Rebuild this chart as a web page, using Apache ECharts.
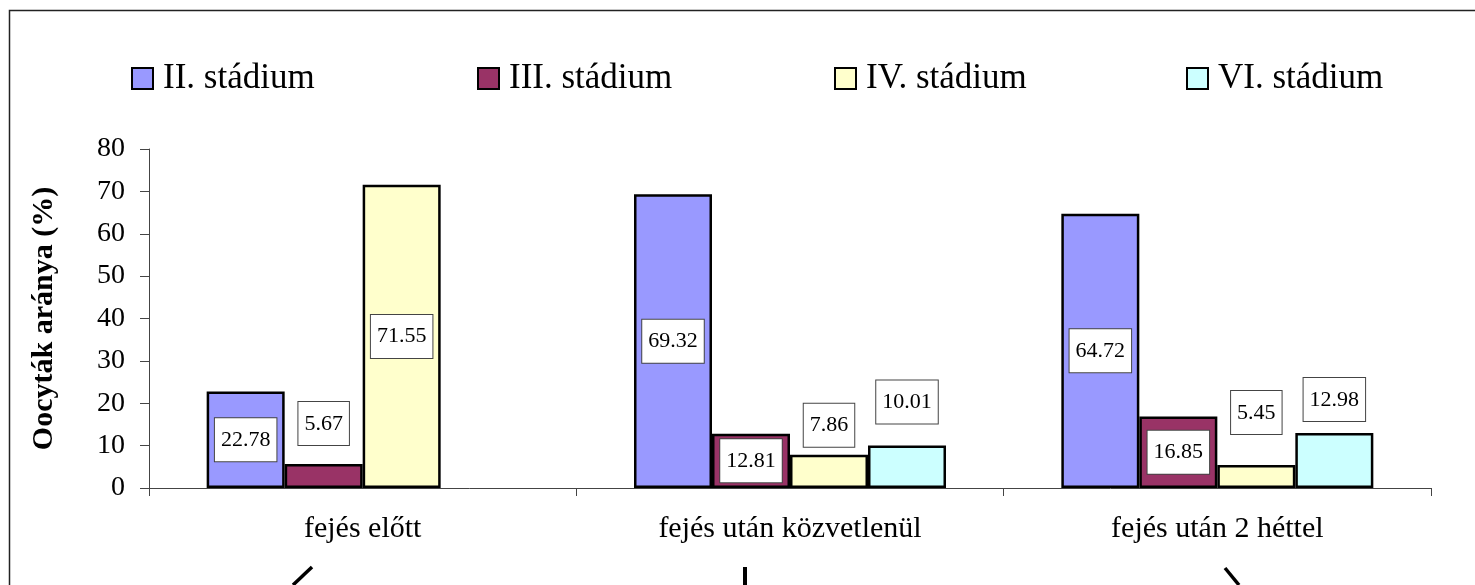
<!DOCTYPE html>
<html>
<head>
<meta charset="utf-8">
<script src="https://cdn.jsdelivr.net/npm/echarts@6/dist/echarts.min.js"></script>
<style>
  html, body { margin: 0; padding: 0; background: #fff; }
  #chart { width: 1475px; height: 585px; }
</style>
</head>
<body>
<div id="chart"></div>
<script>
// data
const categories = ['fejés előtt', 'fejés után közvetlenül', 'fejés után 2 héttel']
const stageNames = ['II. stádium', 'III. stádium', 'IV. stádium', 'VI. stádium']
const stage2 = [22.78, 69.32, 64.72]
const stage3 = [5.67, 12.81, 16.85]
const stage4 = [71.55, 7.86, 5.45]
const stage6 = [null, 10.01, 12.98]
const yTicks = { min: 0, max: 80, step: 10 }

const serif = '"Liberation Serif", "DejaVu Serif", serif'
const colors = ['#9999FF', '#993366', '#FFFFCC', '#CCFFFF']

// label placement like the Excel original: null = inside, number = distance above the bar
const labelLift = [
  [null, null, null],
  [19, null, null],
  [null, 8, 31],
  [null, 22, 12],
]

const chart = echarts.init(document.getElementById('chart'))

const makeSeries = (name, values, idx) => ({
  name,
  type: 'bar',
  barWidth: 78,
  barGap: '0%',
  data: values.map((v, i) => {
    if (v == null) return null
    const lift = labelLift[idx][i]
    return {
      value: v,
      label: lift == null
        ? { position: 'inside' }
        : { position: 'top', distance: lift },
    }
  }),
  itemStyle: { color: colors[idx], borderColor: '#000', borderWidth: 2.5 },
  label: {
    show: true,
    formatter: p => p.value.toFixed(2),
    fontFamily: serif,
    fontSize: 22,
    lineHeight: 22,
    color: '#000',
    backgroundColor: '#fff',
    borderColor: '#444',
    borderWidth: 1,
    padding: [11, 6, 10, 6],
  },
})

const legendLefts = [131, 477, 834, 1186]

chart.setOption({
  animation: false,
  backgroundColor: '#fff',
  legend: stageNames.map((n, i) => ({
    data: [n],
    left: legendLefts[i],
    top: 61,
    padding: 0,
    itemWidth: 21,
    itemHeight: 21,
    icon: 'rect',
    itemStyle: { borderColor: '#000', borderWidth: 2 },
    textStyle: { fontFamily: serif, fontSize: 35, color: '#000', lineHeight: 35, padding: [0, 0, 0, 5] },
    selectedMode: false,
  })),
  grid: { left: 149, right: 44, top: 149, bottom: 97 },
  xAxis: {
    type: 'category',
    data: categories,
    axisLine: { lineStyle: { color: '#444', width: 1 } },
    axisTick: { show: true, length: 8, lineStyle: { color: '#444' } },
    axisLabel: { fontFamily: serif, fontSize: 30, color: '#000', margin: 26 },
  },
  yAxis: {
    type: 'value',
    min: yTicks.min,
    max: yTicks.max,
    interval: yTicks.step,
    name: 'Oocyták aránya (%)',
    nameLocation: 'middle',
    nameGap: 90,
    nameTextStyle: { fontFamily: serif, fontSize: 30, fontWeight: 'bold', color: '#000' },
    axisLine: { show: true, lineStyle: { color: '#444', width: 1 } },
    axisTick: { show: true, inside: false, length: 9, lineStyle: { color: '#444' } },
    axisLabel: { fontFamily: serif, fontSize: 28, color: '#000', margin: 24 },
    splitLine: { show: false },
  },
  series: [
    makeSeries(stageNames[0], stage2, 0),
    makeSeries(stageNames[1], stage3, 1),
    makeSeries(stageNames[2], stage4, 2),
    makeSeries(stageNames[3], stage6, 3),
  ],
  graphic: [
    // outer frame (bottom and right run off the page)
    { type: 'rect', silent: true, shape: { x: 9.5, y: 10.5, width: 1600, height: 700 },
      style: { fill: 'none', stroke: '#222', lineWidth: 1.5 } },
    // arrow stubs under the chart
    { type: 'line', silent: true, shape: { x1: 293, y1: 585, x2: 312, y2: 567 }, style: { stroke: '#000', lineWidth: 3.5 } },
    { type: 'line', silent: true, shape: { x1: 745, y1: 567, x2: 745, y2: 585 }, style: { stroke: '#000', lineWidth: 4 } },
    { type: 'line', silent: true, shape: { x1: 1225, y1: 568, x2: 1239, y2: 585 }, style: { stroke: '#000', lineWidth: 3.5 } },
  ],
})
</script>
</body>
</html>
